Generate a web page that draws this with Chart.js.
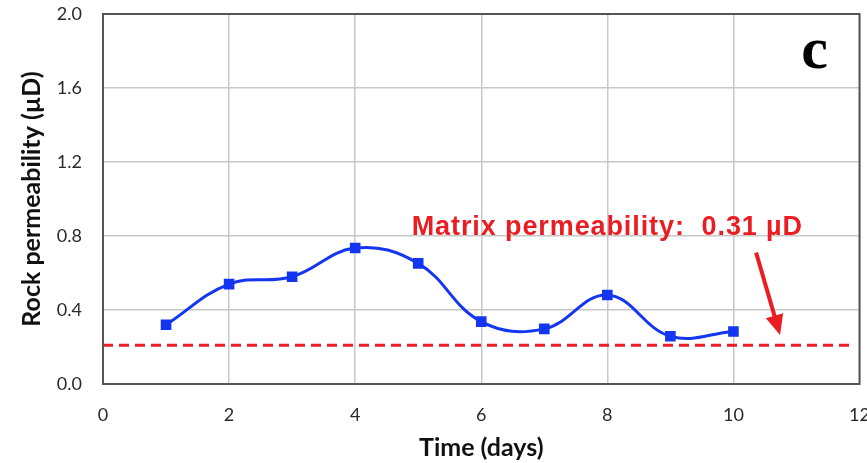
<!DOCTYPE html>
<html>
<head>
<meta charset="utf-8">
<script src="https://cdn.jsdelivr.net/npm/chart.js@4"></script>
<style>
  html, body { margin: 0; padding: 0; background: #fff; }
  #wrap { width: 867px; height: 463px; }
</style>
</head>
<body>
<div id="wrap"><canvas id="permChart" width="867" height="463"></canvas></div>
<script>
// data
var days = [1, 2, 3, 4, 5, 6, 7, 8, 9, 10];
var permeability = [0.32, 0.54, 0.58, 0.735, 0.652, 0.337, 0.298, 0.481, 0.258, 0.284];
var matrixX = [0, 11.85];
var matrixY = [0.21, 0.21];
var xTicks = [0, 2, 4, 6, 8, 10, 12];
var yTicks = [0.0, 0.4, 0.8, 1.2, 1.6, 2.0];
var noteText = 'Matrix permeability:  0.31 \u00B5D';
var arrowFrom = [10.36, 0.71];
var arrowTo = [10.74, 0.265];

var blue = '#1436f0';
var red = '#ea1d23';

var framePlugin = {
    id: 'frame',
    afterDatasetsDraw: function(chart) {
        var ctx = chart.ctx, a = chart.chartArea;
        var xs = chart.scales.x, ys = chart.scales.y;
        ctx.save();
        ctx.strokeStyle = '#555';
        ctx.lineWidth = 2;
        ctx.strokeRect(a.left, a.top, a.right - a.left, a.bottom - a.top);

        // red note text
        ctx.fillStyle = red;
        ctx.font = 'bold 27px "Liberation Sans", Arial, sans-serif';
        ctx.letterSpacing = '0.9px';
        ctx.textAlign = 'center';
        ctx.textBaseline = 'alphabetic';
        ctx.fillText(noteText, xs.getPixelForValue(8), ys.getPixelForValue(0.805));
        ctx.letterSpacing = '0px';

        // arrow
        var x1 = xs.getPixelForValue(arrowFrom[0]), y1 = ys.getPixelForValue(arrowFrom[1]);
        var x2 = xs.getPixelForValue(arrowTo[0]), y2 = ys.getPixelForValue(arrowTo[1]);
        var ang = Math.atan2(y2 - y1, x2 - x1);
        var head = 20;
        ctx.strokeStyle = red;
        ctx.lineWidth = 4;
        ctx.beginPath();
        ctx.moveTo(x1, y1);
        ctx.lineTo(x2 - head * 0.8 * Math.cos(ang), y2 - head * 0.8 * Math.sin(ang));
        ctx.stroke();
        ctx.beginPath();
        ctx.moveTo(x2, y2);
        ctx.lineTo(x2 - head * Math.cos(ang) + 9 * Math.sin(ang), y2 - head * Math.sin(ang) - 9 * Math.cos(ang));
        ctx.lineTo(x2 - head * Math.cos(ang) - 9 * Math.sin(ang), y2 - head * Math.sin(ang) + 9 * Math.cos(ang));
        ctx.closePath();
        ctx.fill();

        // panel letter
        ctx.fillStyle = '#000';
        ctx.font = 'bold 60px "Liberation Serif", "Times New Roman", serif';
        ctx.textAlign = 'center';
        ctx.textBaseline = 'alphabetic';
        ctx.fillText('c', a.right - 45, a.top + 54);
        ctx.restore();
    }
};

var ctx = document.getElementById('permChart').getContext('2d');
var permChart = new Chart(ctx, {
    type: 'line',
    data: {
        datasets: [{
            label: 'Rock permeability',
            data: days.map(function(d, i) { return { x: d, y: permeability[i] }; }),
            borderColor: blue,
            backgroundColor: blue,
            borderWidth: 3,
            pointStyle: 'rect',
            pointRadius: 7.5,
            pointBorderWidth: 0,
            tension: 0.4,
            fill: false,
            order: 1
        }, {
            label: 'Matrix permeability',
            data: matrixX.map(function(x, i) { return { x: x, y: matrixY[i] }; }),
            borderColor: red,
            borderWidth: 3,
            borderDash: [10, 6],
            pointRadius: 0,
            fill: false,
            order: 2
        }]
    },
    options: {
        responsive: false,
        animation: false,
        layout: { padding: { top: 14, right: 7, left: 0, bottom: 0 } },
        plugins: {
            legend: { display: false },
            tooltip: { enabled: false }
        },
        scales: {
            x: {
                type: 'linear',
                min: 0,
                max: 12,
                afterBuildTicks: function(s) { s.ticks = xTicks.map(function(v) { return { value: v }; }); },
                afterFit: function(s) { s.height = 79; s.paddingLeft = 0; s.paddingRight = 0; },
                grid: { color: '#c8c8c8', lineWidth: 1.5, drawTicks: false },
                border: { display: false },
                ticks: {
                    padding: 20,
                    color: '#2a2a2a',
                    font: { family: 'Lato, "Open Sans", sans-serif', size: 18 },
                    maxRotation: 0
                },
                title: {
                    display: true,
                    text: 'Time (days)',
                    color: '#111',
                    font: { family: 'Lato, "Open Sans", sans-serif', size: 25, weight: 'bold' },
                    padding: { top: 0, bottom: 0 }
                }
            },
            y: {
                min: 0,
                max: 2,
                afterBuildTicks: function(s) { s.ticks = yTicks.map(function(v) { return { value: v }; }); },
                afterFit: function(s) { s.width = 103; s.paddingTop = 0; s.paddingBottom = 0; },
                grid: { color: '#c8c8c8', lineWidth: 1.5, drawTicks: false },
                border: { display: false },
                ticks: {
                    padding: 21,
                    color: '#2a2a2a',
                    font: { family: 'Lato, "Open Sans", sans-serif', size: 18 },
                    callback: function(v) { return Number(v).toFixed(1); }
                },
                title: {
                    display: true,
                    text: 'Rock permeability (\u00B5D)',
                    color: '#111',
                    font: { family: 'Lato, "Open Sans", sans-serif', size: 25, weight: 'bold' },
                    padding: { top: 17, bottom: 0 }
                }
            }
        }
    },
    plugins: [framePlugin]
});
</script>
</body>
</html>
